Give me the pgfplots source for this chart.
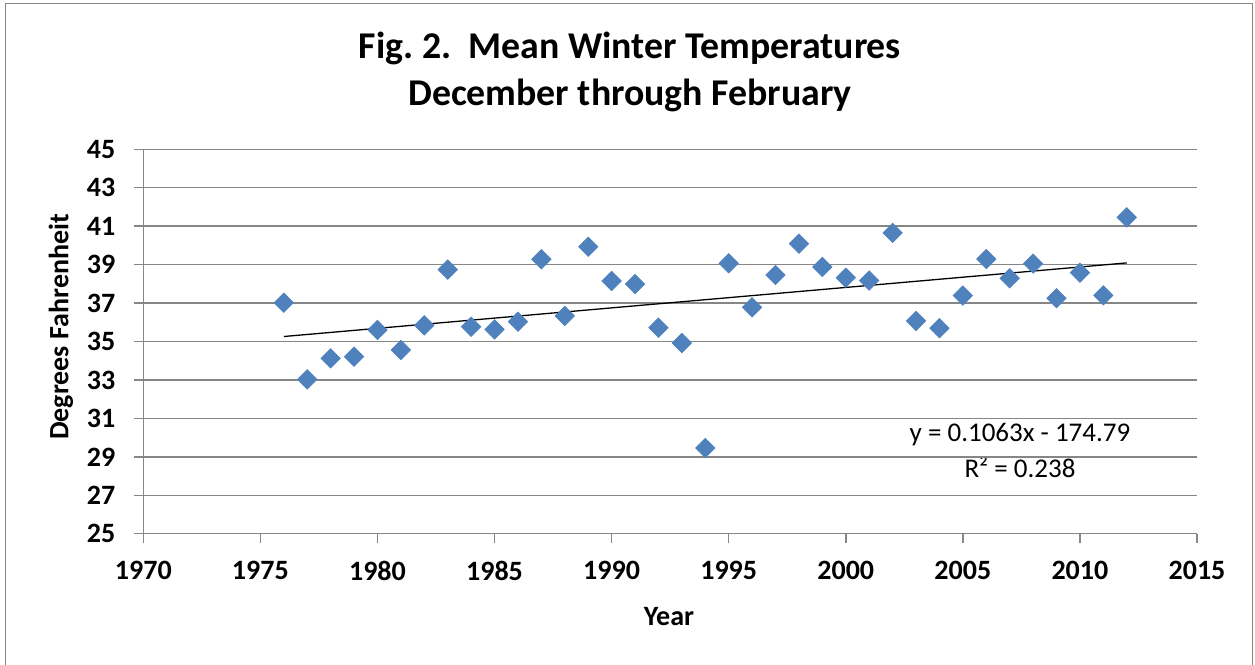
\documentclass[border=0pt]{standalone}
\usepackage{pgfplots}
\pgfplotsset{compat=1.18}
\usepackage{fontspec}
\setmainfont{Carlito}
\frenchspacing
\definecolor{xlblue}{HTML}{4F81BD}
\definecolor{xlgrid}{HTML}{868686}
\begin{document}
\begin{tikzpicture}
\begin{scope}[x=0.5pt,y=-0.5pt]
\useasboundingbox (0,0) rectangle (1255,665);
\draw[xlgrid,line width=0.75pt] (5.5,665) -- (5.5,3.5) -- (1252.5,3.5) -- (1252.5,665);
\node[font=\bfseries\fontsize{18.9}{23}\selectfont] at (630,48) {Fig. 2.\ \ Mean Winter Temperatures};
\node[font=\bfseries\fontsize{18.9}{23}\selectfont] at (630,95) {December through February};
\node[font=\bfseries\fontsize{14}{16}\selectfont] at (669,617) {Year};
\node[font=\bfseries\fontsize{14}{16}\selectfont,rotate=90] at (61,327) {Degrees Fahrenheit};
\node[font=\fontsize{13.5}{16}\selectfont] at (1020,435) {y = 0.1063x - 174.79};
\node[font=\fontsize{13.5}{16}\selectfont] at (1020,467) {R² = 0.238};
\end{scope}
\begin{axis}[
  at={(71.65pt,-266.85pt)}, anchor=south west,
  width=526.85pt, height=192.2pt, scale only axis,
  xmin=1970, xmax=2015, ymin=25, ymax=45,
  xtick={1970,1975,...,2015},
  ytick={25,27,...,45},
  axis lines*=left,
  tick pos=left,
  tick align=outside,
  major tick length=4.5pt,
  axis line style={xlgrid,line width=0.75pt},
  every tick/.style={xlgrid,line width=0.75pt},
  ymajorgrids,
  grid style={xlgrid,line width=0.75pt},
  /pgf/number format/assume math mode=true,
  /pgf/number format/1000 sep={},
  ticklabel style={font=\bfseries\fontsize{14}{16}\selectfont},
  yticklabel style={xshift=-6pt},
  xticklabel style={yshift=-5.5pt},
  clip=false,
]
\addplot[only marks, mark=square*, mark size=3.4pt, mark options={rotate=45, fill=xlblue, draw=xlblue}] coordinates {
(1976,37.02) (1977,33.03) (1978,34.12) (1979,34.21) (1980,35.60) (1981,34.56)
(1982,35.84) (1983,38.74) (1984,35.77) (1985,35.63) (1986,36.03) (1987,39.28)
(1988,36.33) (1989,39.93) (1990,38.15) (1991,37.99) (1992,35.72) (1993,34.92)
(1994,29.46) (1995,39.07) (1996,36.78) (1997,38.46) (1998,40.09) (1999,38.88)
(2000,38.32) (2001,38.17) (2002,40.65) (2003,36.07) (2004,35.69) (2005,37.39)
(2006,39.29) (2007,38.29) (2008,39.05) (2009,37.25) (2010,38.58) (2011,37.40)
(2012,41.46)};
\addplot[black, line width=0.65pt, mark=none] coordinates {(1976,35.26) (2012,39.09)};
\end{axis}
\end{tikzpicture}
\end{document}
